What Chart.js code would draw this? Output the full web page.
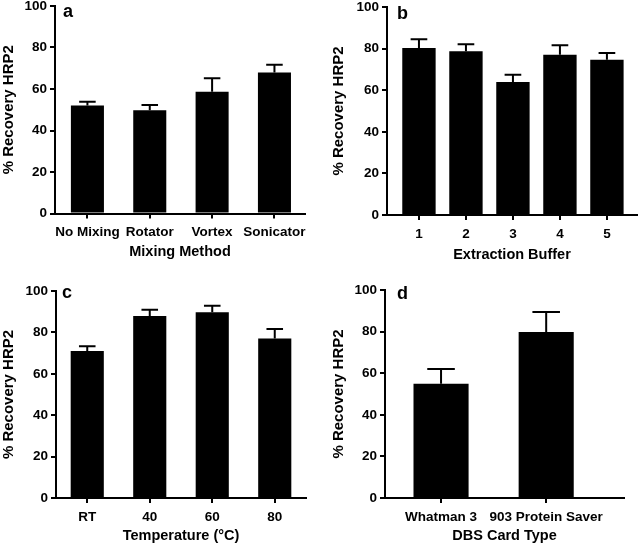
<!DOCTYPE html>
<html>
<head>
<meta charset="utf-8">
<script src="https://cdn.jsdelivr.net/npm/chart.js@4"></script>
<style>
  html, body { margin: 0; padding: 0; background: #fff; }
  body { width: 638px; height: 545px; position: relative; overflow: hidden; }
  .panel { position: absolute; }
  canvas { display: block; }
</style>
</head>
<body>
<div class="panel" style="left:0;top:0;width:319px;height:270px"><canvas id="ca" width="319" height="270"></canvas></div>
<div class="panel" style="left:319px;top:0;width:319px;height:270px"><canvas id="cb" width="319" height="270"></canvas></div>
<div class="panel" style="left:0;top:272px;width:319px;height:273px"><canvas id="cc" width="319" height="273"></canvas></div>
<div class="panel" style="left:319px;top:272px;width:319px;height:273px"><canvas id="cd" width="319" height="273"></canvas></div>
<script>
// ---- Data ----
const yTickValues = [0, 20, 40, 60, 80, 100];
const yAxisTitle = "% Recovery HRP2";

const mixingLabels = ["No Mixing", "Rotator", "Vortex", "Sonicator"];
const mixingMeans  = [52.0, 49.7, 58.7, 68.0];
const mixingErrors = [1.9, 2.6, 6.5, 3.7];

const bufferLabels = ["1", "2", "3", "4", "5"];
const bufferMeans  = [80.3, 78.7, 64.0, 77.1, 74.6];
const bufferErrors = [4.2, 3.4, 3.4, 4.5, 3.3];

const tempLabels = ["RT", "40", "60", "80"];
const tempMeans  = [71.0, 87.9, 89.7, 77.0];
const tempErrors = [2.3, 3.1, 3.2, 4.6];

const cardLabels = ["Whatman 3", "903 Protein Saver"];
const cardMeans  = [54.9, 79.8];
const cardErrors = [7.1, 9.6];

// ---- Plugins ----
const errorBarPlugin = {
  id: 'errorBars',
  afterDatasetsDraw(chart, args, opts) {
    const meta = chart.getDatasetMeta(0);
    const yScale = chart.scales.y;
    const ctx = chart.ctx;
    ctx.save();
    ctx.strokeStyle = '#000';
    ctx.lineWidth = 2;
    ctx.lineCap = 'butt';
    meta.data.forEach((bar, i) => {
      const v = chart.data.datasets[0].data[i].y;
      const top = yScale.getPixelForValue(v + opts.errors[i]);
      const half = bar.width / 4;
      ctx.beginPath();
      ctx.moveTo(bar.x, bar.y);
      ctx.lineTo(bar.x, top);
      ctx.moveTo(bar.x - half, top);
      ctx.lineTo(bar.x + half, top);
      ctx.stroke();
    });
    ctx.restore();
  }
};

const panelLetterPlugin = {
  id: 'panelLetter',
  afterDraw(chart, args, opts) {
    const ctx = chart.ctx;
    const a = chart.chartArea;
    ctx.save();
    ctx.fillStyle = '#000';
    ctx.font = 'bold 18px "Liberation Sans", Arial, sans-serif';
    ctx.textAlign = 'left';
    ctx.textBaseline = 'alphabetic';
    ctx.fillText(opts.text, a.left + opts.dx, a.top + opts.dy);
    ctx.restore();
  }
};

const FONT = '"Liberation Sans", Arial, Helvetica, sans-serif';

function makePanel(id, cfg) {
  const data = cfg.labels.map((_, i) => ({ x: i, y: cfg.means[i] }));
  new Chart(document.getElementById(id), {
    type: 'bar',
    data: {
      datasets: [{
        data: data,
        backgroundColor: '#000',
        borderWidth: 0,
        categoryPercentage: 1.0,
        barPercentage: cfg.barPct
      }]
    },
    options: {
      responsive: false,
      animation: false,
      devicePixelRatio: 1,
      layout: { padding: cfg.padding },
      plugins: {
        legend: { display: false },
        tooltip: { enabled: false },
        errorBars: { errors: cfg.errors },
        panelLetter: { text: cfg.letter, dx: cfg.letterDx, dy: cfg.letterDy }
      },
      scales: {
        x: {
          type: 'linear',
          offset: false,
          min: cfg.xMin,
          max: cfg.xMax,
          afterBuildTicks: (s) => { s.ticks = cfg.labels.map((_, i) => ({ value: i })); },
          afterFit: (s) => { s.height = cfg.xHeight; s.paddingLeft = 0; s.paddingRight = 0; s.paddingTop = 0; s.paddingBottom = 0; },
          grid: { display: true, offset: false, drawOnChartArea: false, drawTicks: true, tickLength: 5, color: '#000', lineWidth: 2 },
          border: { display: true, color: '#000', width: 2 },
          ticks: {
            autoSkip: false, maxRotation: 0, minRotation: 0, padding: 6,
            color: '#000',
            font: { family: FONT, size: 13.5, weight: 'bold' },
            callback: (v) => cfg.labels[v]
          },
          title: {
            display: true, text: cfg.xTitle, color: '#000',
            font: { family: FONT, size: 14.5, weight: 'bold' },
            padding: { top: 0, bottom: cfg.xTitlePad }
          }
        },
        y: {
          min: 0, max: 100,
          afterBuildTicks: (s) => { s.ticks = yTickValues.map(v => ({ value: v })); },
          afterFit: (s) => { s.width = cfg.yWidth; s.paddingLeft = 0; s.paddingRight = 0; s.paddingTop = 0; s.paddingBottom = 0; },
          grid: { display: true, drawOnChartArea: false, drawTicks: true, tickLength: 5, color: '#000', lineWidth: 2 },
          border: { display: true, color: '#000', width: 2 },
          ticks: {
            padding: 3, color: '#000',
            font: { family: FONT, size: 13.5, weight: 'bold' }
          },
          title: {
            display: true, text: yAxisTitle, color: '#000',
            font: { family: FONT, size: 15, weight: 'bold' },
            padding: { top: cfg.yTitlePad, bottom: 0 }
          }
        }
      }
    },
    plugins: [errorBarPlugin, panelLetterPlugin]
  });
}

makePanel('ca', {
  labels: mixingLabels, means: mixingMeans, errors: mixingErrors,
  xTitle: 'Mixing Method', letter: 'a', letterDx: 8, letterDy: 11,
  padding: { left: 0, top: 6, right: 14, bottom: 0 },
  yWidth: 55, xHeight: 56.5, xMin: -0.52, xMax: 3.49, barPct: 0.53,
  xTitlePad: 9.6, yTitlePad: 0
});
makePanel('cb', {
  labels: bufferLabels, means: bufferMeans, errors: bufferErrors,
  xTitle: 'Extraction Buffer', letter: 'b', letterDx: 10, letterDy: 12,
  padding: { left: 0, top: 7, right: 1, bottom: 0 },
  yWidth: 68, xHeight: 55, xMin: -0.68, xMax: 4.64, barPct: 0.71,
  xTitlePad: 6.3, yTitlePad: 11
});
makePanel('cc', {
  labels: tempLabels, means: tempMeans, errors: tempErrors,
  xTitle: 'Temperature (°C)', letter: 'c', letterDx: 6, letterDy: 7,
  padding: { left: 0, top: 19, right: 13, bottom: 0 },
  yWidth: 56, xHeight: 47, xMin: -0.5, xMax: 3.5, barPct: 0.53,
  xTitlePad: 0, yTitlePad: 0
});
makePanel('cd', {
  labels: cardLabels, means: cardMeans, errors: cardErrors,
  xTitle: 'DBS Card Type', letter: 'd', letterDx: 12, letterDy: 9,
  padding: { left: 0, top: 18, right: 14, bottom: 0 },
  yWidth: 66, xHeight: 47, xMin: -0.533, xMax: 1.74, barPct: 0.524,
  xTitlePad: 0, yTitlePad: 11
});
</script>
</body>
</html>
